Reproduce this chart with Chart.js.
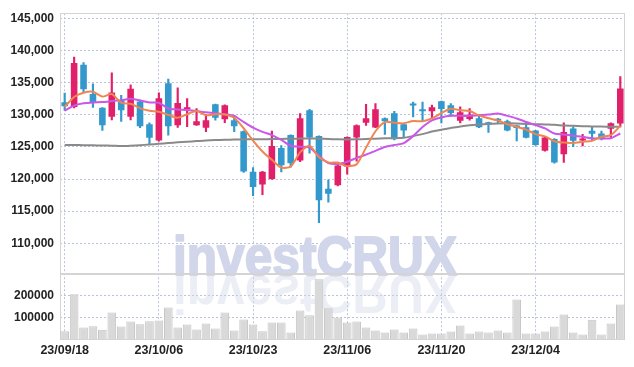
<!DOCTYPE html>
<html>
<head>
<meta charset="utf-8">
<script src="https://cdn.jsdelivr.net/npm/chart.js@4.4.1/dist/chart.umd.min.js"></script>
<style>
  html, body { margin: 0; padding: 0; background: #fff; }
  #wrap { width: 634px; height: 367px; }
</style>
</head>
<body>
<div id="wrap"><canvas id="priceChart" width="634" height="367"></canvas></div>
<script>
const dates = [
  "23/09/18", "23/09/19", "23/09/20", "23/09/21", "23/09/22", "23/09/25", "23/09/26", "23/09/27", "23/10/04", "23/10/05",
  "23/10/06", "23/10/10", "23/10/11", "23/10/12", "23/10/13", "23/10/16", "23/10/17", "23/10/18", "23/10/19", "23/10/20",
  "23/10/23", "23/10/24", "23/10/25", "23/10/26", "23/10/27", "23/10/30", "23/10/31", "23/11/01", "23/11/02", "23/11/03",
  "23/11/06", "23/11/07", "23/11/08", "23/11/09", "23/11/10", "23/11/13", "23/11/14", "23/11/15", "23/11/16", "23/11/17",
  "23/11/20", "23/11/21", "23/11/22", "23/11/23", "23/11/24", "23/11/27", "23/11/28", "23/11/29", "23/11/30", "23/12/01",
  "23/12/04", "23/12/05", "23/12/06", "23/12/07", "23/12/08", "23/12/11", "23/12/12", "23/12/13", "23/12/14", "23/12/15",
];

const priceTicks = [110000, 115000, 120000, 125000, 130000, 135000, 140000, 145000];
const volumeTicks = [100000, 200000];

const openPrices = [
  131960, 131250, 137800, 133250, 131100, 129700, 132270, 129700, 132100, 128550,
  126000, 134950, 128400, 130870, 128400, 128000, 131650, 129330, 129170, 127470,
  121130, 119170, 120000, 124850, 126850, 122890, 130720, 126700, 118500, 119020,
  121960, 126490, 128760, 128040, 129480, 130260, 128560, 131500, 130600, 130570,
  132110, 131500, 129070, 129380, 129480, 128870, 129200, 129020, 128350, 128090,
  127580, 124430, 126240, 123870, 127890, 126000, 127530, 127110, 127840, 128660,
];
const highPrices = [
  133400, 139000, 138150, 134850, 131150, 136550, 133050, 134700, 132300, 128750,
  133450, 135600, 134230, 132530, 130980, 130100, 131700, 131550, 129950, 127500,
  121800, 121200, 127470, 125200, 126900, 130200, 130880, 126750, 119900, 122630,
  126600, 128450, 131650, 131750, 129550, 130570, 128600, 132010, 132010, 131540,
  132150, 131750, 131240, 130980, 130050, 128900, 129480, 129180, 128400, 128920,
  127600, 126550, 126300, 128760, 128140, 126960, 128140, 127470, 128760, 135980,
];
const lowPrices = [
  130700, 131100, 133550, 131150, 127600, 129200, 128970, 129200, 128000, 125450,
  125900, 126850, 128050, 128150, 128350, 127370, 129170, 128800, 127370, 121030,
  117420, 117580, 119950, 121130, 121850, 122730, 124020, 113200, 116390, 118950,
  120770, 122800, 128350, 128000, 126960, 126100, 126490, 129690, 129020, 129490,
  128760, 129800, 128760, 129170, 128000, 127270, 128660, 127500, 125930, 126400,
  125250, 124330, 122470, 122580, 125050, 125150, 125980, 126100, 126490, 128140,
];
const closePrices = [
  131340, 138100, 134000, 132000, 128400, 133500, 130720, 134070, 128250, 126450,
  132580, 128250, 131850, 131180, 129020, 129170, 129540, 131500, 128250, 121190,
  118760, 121130, 125150, 122170, 122470, 129480, 126490, 116700, 117730, 122110,
  126550, 128400, 129480, 130880, 129020, 126190, 127580, 131450, 130550, 131190,
  130930, 130310, 130410, 130050, 128090, 128560, 129100, 127580, 127940, 126440,
  125310, 126490, 122580, 127320, 125980, 126080, 127060, 126190, 128710, 134120,
];
const volumes = [
  35000, 205000, 53000, 58000, 43000, 122000, 57000, 80000, 67700, 81000,
  84700, 145000, 52500, 66200, 43200, 71500, 48500, 122000, 38600, 90000,
  66200, 35000, 76000, 76000, 29400, 130900, 108500, 273700, 141000, 98600,
  76000, 80000, 52500, 38600, 29400, 43200, 29400, 48000, 20200, 24800,
  24800, 34000, 61600, 24800, 34000, 29400, 38600, 29400, 181500, 24800,
  24800, 34000, 57000, 112400, 29400, 20200, 88500, 20200, 71000, 158500,
];
const ma5 = [
  131240, 132800, 133450, 133600, 132850, 133250, 131900, 131740, 131050, 130650,
  130500, 130000, 129550, 130100, 130620, 129950, 130120, 130070, 129550, 127920,
  126000, 124300, 123000, 121800, 121950, 124150, 125200, 123400, 122600, 122550,
  122000, 122320, 124900, 127450, 128880, 128780, 128680, 129050, 129000, 129450,
  130280, 130950, 130730, 130600, 129920, 129470, 129150, 128550, 128150, 127700,
  127000, 126650, 125900, 125680, 125650, 125820, 125950, 126600, 126850, 128300,
];
const ma20 = [
  130650, 131450, 131800, 131950, 132000, 132150, 132300, 132500, 132250, 131950,
  131900, 131000, 130850, 130750, 130600, 130400, 130250, 130100, 129850, 128900,
  128000, 127350, 126850, 126100, 125200, 125050, 124900, 123600, 122500, 122350,
  122700, 123300, 123800, 124400, 125000, 125300, 125600, 126700, 128100, 129150,
  129600, 129850, 129850, 129850, 129950, 130050, 130200, 129850, 129450, 128900,
  128400, 127900, 127100, 126950, 126750, 126600, 126350, 126350, 126350, 127100,
];
const ma60 = [
  125300, 125300, 125280, 125260, 125230, 125200, 125150, 125200, 125280, 125380,
  125500, 125620, 125720, 125820, 125920, 126020, 126080, 126120, 126150, 126180,
  126200, 126210, 126230, 126250, 126280, 126320, 126340, 126300, 126250, 126200,
  126180, 126200, 126250, 126300, 126350, 126400, 126440, 126700, 127000, 127400,
  127700, 127950, 128200, 128400, 128520, 128600, 128650, 128680, 128650, 128600,
  128550, 128500, 128450, 128350, 128300, 128250, 128200, 128180, 128150, 128150,
];

const upColor = "#e2206a";
const downColor = "#3399cc";
const gridColor = "#bcc3da";
const frameColor = "#d4d4d4";
const tickFont = "'Liberation Sans', Arial, sans-serif";

const candleColors = openPrices.map((o, i) => (closePrices[i] >= o ? upColor : downColor));

// watermark + panel frames, drawn under the candles
const decor = {
  id: "decor",
  beforeDatasetsDraw(chart) {
    const { ctx, chartArea } = chart;
    const yScale = chart.scales.y;
    const volScale = chart.scales.yVol;

    ctx.save();
    const text = "investCRUX";
    ctx.font = "bold 56px 'Liberation Sans', Arial, sans-serif";
    const sx = 284 / ctx.measureText(text).width;
    ctx.translate(173, yScale.bottom + 1);
    ctx.scale(sx, 1);
    ctx.lineJoin = "round";
    ctx.lineWidth = 2;
    ctx.fillStyle = ctx.strokeStyle = "#d2d6ea";
    ctx.fillText(text, 0, 0);
    ctx.strokeText(text, 0, 0);
    ctx.scale(1, -1);
    ctx.fillStyle = "rgba(210,214,234,0.42)";
    ctx.fillText(text, 0, 0);
    ctx.restore();

    ctx.save();
    ctx.strokeStyle = frameColor;
    ctx.lineWidth = 1;
    [yScale, volScale].forEach((s) => {
      ctx.strokeRect(
        Math.round(chartArea.left) + 0.5,
        Math.round(s.top) + 0.5,
        Math.round(chartArea.right - chartArea.left) - 1,
        Math.round(s.bottom - s.top),
      );
    });
    ctx.restore();
  },
};

new Chart(document.getElementById("priceChart"), {
  data: {
    labels: dates,
    datasets: [
      {
        type: "line",
        label: "MA5",
        data: ma5,
        yAxisID: "y",
        borderColor: "#ef8551",
        borderWidth: 2,
        pointRadius: 0,
        tension: 0.25,
        order: 0,
      },
      {
        type: "line",
        label: "MA20",
        data: ma20,
        yAxisID: "y",
        borderColor: "#c957e8",
        borderWidth: 2,
        pointRadius: 0,
        tension: 0.25,
        order: 0,
      },
      {
        type: "line",
        label: "MA60",
        data: ma60,
        yAxisID: "y",
        borderColor: "#8a8a8a",
        borderWidth: 2,
        pointRadius: 0,
        tension: 0.25,
        order: 0,
      },
      {
        type: "bar",
        label: "body",
        data: openPrices.map((o, i) => [o, closePrices[i]]),
        yAxisID: "y",
        backgroundColor: candleColors,
        grouped: false,
        barPercentage: 0.7,
        categoryPercentage: 1,
        minBarLength: 2,
        order: 1,
      },
      {
        type: "bar",
        label: "wick",
        data: lowPrices.map((l, i) => [l, highPrices[i]]),
        yAxisID: "y",
        backgroundColor: candleColors,
        grouped: false,
        barThickness: 1.5,
        order: 2,
      },
      {
        type: "bar",
        label: "volume",
        data: volumes,
        yAxisID: "yVol",
        backgroundColor: "#d9d9d9",
        borderColor: "#c4c4c4",
        borderWidth: 1,
        grouped: false,
        barPercentage: 0.92,
        categoryPercentage: 1,
        order: 3,
      },
    ],
  },
  options: {
    responsive: false,
    animation: false,
    layout: { padding: { top: 10, right: 9, left: 0, bottom: 0 } },
    plugins: { legend: { display: false }, tooltip: { enabled: false } },
    scales: {
      x: {
        offset: true,
        grid: {
          offset: false,
          drawTicks: false,
          color: (c) => (c.index % 10 === 0 ? gridColor : "rgba(0,0,0,0)"),
        },
        border: { display: false, dash: [2, 2] },
        ticks: {
          autoSkip: false,
          maxRotation: 0,
          padding: 4,
          color: "#222",
          font: { family: tickFont, size: 12.5, weight: "bold" },
          callback: (v, i) => (i % 10 === 0 ? dates[i] : ""),
        },
        afterFit: (s) => { s.height = 28; },
      },
      yVol: {
        type: "linear",
        position: "left",
        stack: "panes",
        stackWeight: 66,
        min: 0,
        max: 300000,
        grid: { drawTicks: false, color: gridColor },
        border: { display: false, dash: [2, 2] },
        ticks: {
          padding: 6,
          color: "#222",
          font: { family: tickFont, size: 12, weight: "bold" },
          callback: (v) => String(v),
        },
        afterBuildTicks: (s) => { s.ticks = volumeTicks.map((value) => ({ value })); },
        afterFit: (s) => { s.width = 60; },
      },
      y: {
        type: "linear",
        position: "left",
        stack: "panes",
        stackWeight: 263,
        min: 105260,
        max: 145850,
        grid: { drawTicks: false, color: gridColor },
        border: { display: false, dash: [2, 2] },
        ticks: {
          padding: 6,
          color: "#222",
          font: { family: tickFont, size: 12, weight: "bold" },
          callback: (v) => v.toLocaleString("en-US"),
        },
        afterBuildTicks: (s) => { s.ticks = priceTicks.map((value) => ({ value })); },
        afterFit: (s) => { s.width = 60; },
      },
    },
  },
  plugins: [decor],
});
</script>
</body>
</html>
